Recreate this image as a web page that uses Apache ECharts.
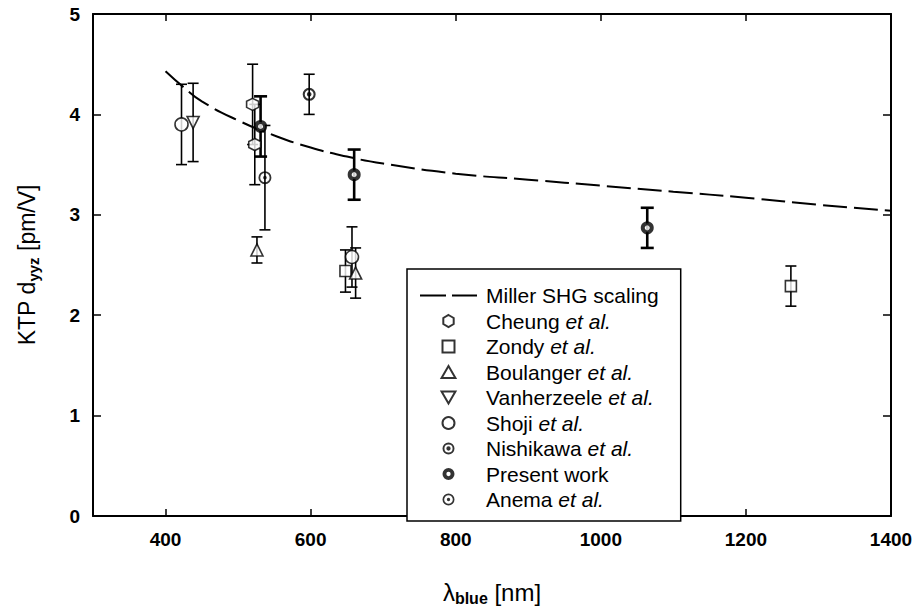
<!DOCTYPE html>
<html>
<head>
<meta charset="utf-8">
<script src="https://cdn.jsdelivr.net/npm/echarts@6/dist/echarts.min.js"></script>
<style>
html,body{margin:0;padding:0;background:#fff;}
#chart{width:919px;height:611px;}
</style>
</head>
<body>
<div id="chart"></div>
<script>
const FONT = 'Liberation Sans, Arial, Helvetica, sans-serif';

// axis ticks
const xTickValues = [400, 600, 800, 1000, 1200];
const xLabelValues = [400, 600, 800, 1000, 1200, 1400];

// Miller SHG scaling curve
const millerX = [400, 425, 450, 500, 550, 600, 650, 700, 800, 900, 1000, 1100, 1200, 1300, 1400];
const millerY = [4.43, 4.27, 4.13, 3.94, 3.79, 3.67, 3.58, 3.51, 3.41, 3.35, 3.29, 3.23, 3.17, 3.10, 3.04];

// measurements: [lambda_blue (nm), d_yyz (pm/V), error (pm/V)]
const cheung      = [[520, 4.10, 0.40], [523, 3.70, 0.40]];
const zondy       = [[648, 2.44, 0.21], [1262, 2.29, 0.20]];
const boulanger   = [[526, 2.65, 0.13], [662, 2.42, 0.25]];
const vanherzeele = [[438, 3.92, 0.39]];
const shoji       = [[422, 3.90, 0.40], [657, 2.58, 0.30]];
const nishikawa   = [[598, 4.20, 0.20]];
const present     = [[531, 3.88, 0.30], [660, 3.40, 0.25], [1064, 2.87, 0.20]];
const anema       = [[537, 3.37, 0.52]];

const HEX = 'path://M5,0 L9.33,2.5 L9.33,7.5 L5,10 L0.67,7.5 L0.67,2.5 Z';
const SQUARE = 'path://M0,0 L10,0 L10,10 L0,10 Z';
const TRI_UP = 'path://M5,0 L10,8.66 L0,8.66 Z';
const TRI_DOWN = 'path://M0,0 L10,0 L5,8.66 Z';
const DASH_ICON = 'path://M0,0 L26,0 L26,2.2 L0,2.2 Z M32,0 L57,0 L57,2.2 L32,2.2 Z';
function ringDot(inner, dot) {
  const a = 10 - inner, b = 10 + inner, c = 10 - dot, d = 10 + dot;
  let p = 'path://M10,0 A10,10 0 1,1 10,20 A10,10 0 1,1 10,0 Z ' +
          'M10,' + a + ' A' + inner + ',' + inner + ' 0 1,0 10,' + b + ' A' + inner + ',' + inner + ' 0 1,0 10,' + a + ' Z';
  if (dot > 0) p += ' M10,' + c + ' A' + dot + ',' + dot + ' 0 1,1 10,' + d + ' A' + dot + ',' + dot + ' 0 1,1 10,' + c + ' Z';
  return p;
}
const NISHI = ringDot(6.8, 3.6);
const ANEMA = ringDot(7.2, 2.8);
const PRESENT_ICON = ringDot(3.6, 0);

const openStyle = { color: '#fff', borderColor: '#000', borderWidth: 1.6 };
const fillStyle = { color: '#000', borderWidth: 0 };
const presentStyle = { color: '#fff', borderColor: '#000', borderWidth: 4 };

function pts(arr) { return arr.map(d => [d[0], d[1]]); }
function bars(arr) { return arr.map(d => [d[0], d[1] - d[2], d[1] + d[2]]); }

function errRender(width, cap) {
  return function (params, api) {
    const x = api.value(0), lo = api.value(1), hi = api.value(2);
    const p1 = api.coord([x, lo]), p2 = api.coord([x, hi]);
    const st = { stroke: '#000', lineWidth: width };
    return {
      type: 'group',
      children: [
        { type: 'line', shape: { x1: p1[0], y1: p1[1], x2: p2[0], y2: p2[1] }, style: st },
        { type: 'line', shape: { x1: p1[0] - cap, y1: p1[1], x2: p1[0] + cap, y2: p1[1] }, style: st },
        { type: 'line', shape: { x1: p2[0] - cap, y1: p2[1], x2: p2[0] + cap, y2: p2[1] }, style: st }
      ]
    };
  };
}

const otherBars = [].concat(bars(cheung), bars(zondy), bars(boulanger), bars(vanherzeele),
                            bars(shoji), bars(nishikawa), bars(anema));

const chart = echarts.init(document.getElementById('chart'), null, { renderer: 'svg' });

const legendData = [
  { name: 'Miller SHG scaling', icon: DASH_ICON, itemStyle: { color: '#000', borderWidth: 0 } },
  { name: 'Cheung et al.', icon: HEX },
  { name: 'Zondy et al.', icon: SQUARE },
  { name: 'Boulanger et al.', icon: TRI_UP },
  { name: 'Vanherzeele et al.', icon: TRI_DOWN },
  { name: 'Shoji et al.', icon: 'circle' },
  { name: 'Nishikawa et al.', icon: NISHI },
  { name: 'Present work', icon: PRESENT_ICON, itemStyle: { color: '#000', borderWidth: 0 } },
  { name: 'Anema et al.', icon: ANEMA }
];

function scatter(name, data, symbol, style, size) {
  return {
    type: 'scatter', name: name, data: pts(data), symbol: symbol, symbolSize: size,
    itemStyle: style, z: 4, emphasis: { disabled: true }
  };
}

const tickLabel = { fontSize: 19, fontWeight: 'bold', fontFamily: FONT, color: '#000' };

chart.setOption({
  animation: false,
  backgroundColor: '#fff',
  grid: { left: 93, right: 28, top: 14, bottom: 88 },
  xAxis: [{
    type: 'value', min: 300, max: 1400, position: 'bottom',
    name: '{a|λ}{s|blue}{a| [nm]}', nameLocation: 'middle', nameGap: 62,
    nameTextStyle: {
      rich: {
        a: { fontSize: 24, fontFamily: FONT, color: '#000', lineHeight: 28 },
        s: { fontSize: 16, fontFamily: FONT, color: '#000', fontWeight: 'bold', verticalAlign: 'bottom' }
      }
    },
    axisLine: { show: true, onZero: false, lineStyle: { color: '#000', width: 2 } },
    axisTick: { show: true, inside: true, length: 7, customValues: xTickValues, lineStyle: { color: '#000', width: 1.5 } },
    axisLabel: Object.assign({ customValues: xLabelValues, margin: 14, formatter: v => String(v) }, tickLabel),
    splitLine: { show: false }
  }, {
    type: 'value', min: 300, max: 1400, position: 'top',
    axisLine: { show: true, onZero: false, lineStyle: { color: '#000', width: 2 } },
    axisTick: { show: true, inside: true, length: 7, customValues: xTickValues, lineStyle: { color: '#000', width: 1.5 } },
    axisLabel: { show: false },
    splitLine: { show: false }
  }],
  yAxis: [{
    type: 'value', min: 0, max: 5, interval: 1, position: 'left',
    name: '{a|KTP d}{s|yyz}{a| [pm/V]}', nameLocation: 'middle', nameGap: 52, nameRotate: 90,
    nameTextStyle: {
      rich: {
        a: { fontSize: 23, fontFamily: FONT, color: '#000', lineHeight: 28 },
        s: { fontSize: 15, fontFamily: FONT, color: '#000', fontWeight: 'bold', verticalAlign: 'bottom' }
      }
    },
    axisLine: { show: true, onZero: false, lineStyle: { color: '#000', width: 2 } },
    axisTick: { show: true, inside: true, length: 8, lineStyle: { color: '#000', width: 1.5 } },
    axisLabel: Object.assign({ margin: 13 }, tickLabel),
    splitLine: { show: false }
  }, {
    type: 'value', min: 0, max: 5, interval: 1, position: 'right',
    axisLine: { show: true, onZero: false, lineStyle: { color: '#000', width: 2 } },
    axisTick: { show: true, inside: true, length: 8, lineStyle: { color: '#000', width: 1.5 } },
    axisLabel: { show: false },
    splitLine: { show: false }
  }],
  legend: {
    data: legendData,
    orient: 'vertical', left: 407, top: 269,
    padding: [16, 22, 11, 13],
    itemWidth: 57, itemHeight: 12, itemGap: 4.5,
    backgroundColor: '#fff', borderColor: '#000', borderWidth: 1.5,
    selectedMode: false,
    formatter: function (name) {
      if (name.endsWith(' et al.')) return '{n|' + name.slice(0, -7) + ' }{i|et al.}';
      return '{n|' + name + '}';
    },
    textStyle: {
      rich: {
        n: { fontSize: 21, fontFamily: FONT, color: '#000', lineHeight: 21, padding: [0, 0, 0, 4] },
        i: { fontSize: 21, fontFamily: FONT, color: '#000', lineHeight: 21, fontStyle: 'italic' }
      }
    }
  },
  series: [
    {
      type: 'custom', renderItem: errRender(1.6, 5.5), data: otherBars,
      encode: { x: 0, y: [1, 2] }, z: 1, silent: true
    },
    {
      type: 'custom', renderItem: errRender(2.6, 6.5), data: bars(present),
      encode: { x: 0, y: [1, 2] }, z: 1, silent: true
    },
    {
      type: 'line', name: 'Miller SHG scaling', data: millerX.map((x, i) => [x, millerY[i]]),
      smooth: true, symbol: 'none', z: 3,
      lineStyle: { color: '#000', width: 2, type: [24, 7] }, itemStyle: { color: '#000' }
    },
    scatter('Cheung et al.', cheung, HEX, openStyle, 12),
    scatter('Zondy et al.', zondy, SQUARE, openStyle, 11),
    scatter('Boulanger et al.', boulanger, TRI_UP, openStyle, 12),
    scatter('Vanherzeele et al.', vanherzeele, TRI_DOWN, openStyle, 12),
    scatter('Shoji et al.', shoji, 'circle', openStyle, 13),
    scatter('Nishikawa et al.', nishikawa, NISHI, fillStyle, 13),
    scatter('Present work', present, 'circle', presentStyle, 9),
    scatter('Anema et al.', anema, ANEMA, fillStyle, 13)
  ]
});
</script>
</body>
</html>
